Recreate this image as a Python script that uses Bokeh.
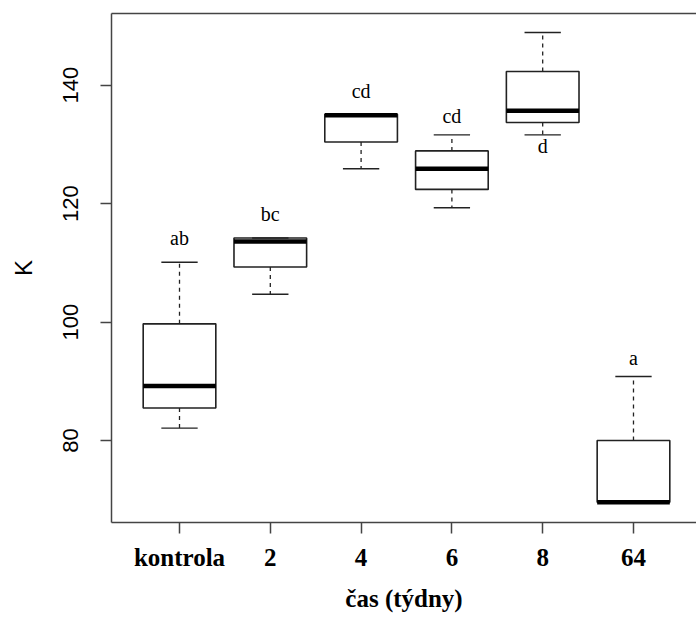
from bokeh.plotting import figure
from bokeh.models import FixedTicker, LinearAxis, Range1d
from bokeh.embed import file_html
from bokeh.resources import INLINE
from bokeh.core.properties import value
import numpy as np

# ---- data ----
groups = ["kontrola", "2", "4", "6", "8", "64"]
lower_whisker = [82.1, 104.7, 125.9, 119.3, 131.6, 69.6]
q1 = [85.5, 109.3, 130.4, 122.4, 133.7, 69.6]
median = [89.2, 113.6, 134.9, 125.9, 135.7, 69.6]
q3 = [99.7, 114.2, 135.1, 128.9, 142.3, 80.0]
upper_whisker = [110.1, 114.2, 135.1, 131.6, 148.9, 90.8]
letters = ["ab", "bc", "cd", "cd", "d", "a"]
letter_y = [114.2, 118.2, 139.0, 134.8, 129.7, 94.0]
y_ticks = [80, 100, 120, 140]

xs = np.arange(1, len(groups) + 1)
box_w = 0.8
cap_w = 0.4

LINE = "#222222"
AXIS = "#444444"

p = figure(width=696, height=617,
           x_range=Range1d(0.251, 6.694), y_range=Range1d(66.16, 152.1),
           output_backend="svg", toolbar_location=None,
           min_border_left=111, min_border_right=0,
           min_border_top=13, min_border_bottom=95)
p.outline_line_color = None
p.grid.visible = False
p.background_fill_color = "white"

# boxes
p.vbar(x=xs, width=box_w, bottom=q1, top=q3, fill_color="white",
       line_color=LINE, line_width=1.6)
# whiskers
p.segment(x0=xs, x1=xs, y0=q3, y1=upper_whisker, line_color=LINE,
          line_width=1.3, line_dash="4 4")
p.segment(x0=xs, x1=xs, y0=q1, y1=lower_whisker, line_color=LINE,
          line_width=1.3, line_dash="4 4")
# caps
p.segment(x0=xs - cap_w / 2, x1=xs + cap_w / 2, y0=upper_whisker,
          y1=upper_whisker, line_color=LINE, line_width=1.4)
p.segment(x0=xs - cap_w / 2, x1=xs + cap_w / 2, y0=lower_whisker,
          y1=lower_whisker, line_color=LINE, line_width=1.4)
# medians
p.segment(x0=xs - box_w / 2, x1=xs + box_w / 2, y0=median, y1=median,
          line_color="black", line_width=4.5)

# significance letters
p.text(x=xs, y=letter_y, text=letters, text_align="center",
       text_baseline="alphabetic", text_font=value("Liberation Serif"),
       text_font_size="20px", text_color="black")

# x axis
xa = p.xaxis[0]
xa.ticker = FixedTicker(ticks=list(xs))
xa.major_label_overrides = {int(x): g for x, g in zip(xs, groups)}
xa.minor_tick_line_color = None
xa.major_tick_in = 0
xa.major_tick_out = 11
xa.major_label_standoff = 10
xa.major_label_text_font = "Liberation Serif"
xa.major_label_text_font_style = "bold"
xa.major_label_text_font_size = "25px"
xa.major_label_text_color = "black"
xa.axis_line_color = AXIS
xa.axis_line_width = 1.5
xa.major_tick_line_color = AXIS
xa.major_tick_line_width = 1.5
xa.axis_label = "čas (týdny)"
xa.axis_label_text_font = "Liberation Serif"
xa.axis_label_text_font_style = "bold"
xa.axis_label_text_font_size = "25px"
xa.axis_label_text_color = "black"
xa.axis_label_standoff = 11

# y axis
ya = p.yaxis[0]
ya.ticker = FixedTicker(ticks=y_ticks)
ya.minor_tick_line_color = None
ya.major_tick_in = 0
ya.major_tick_out = 11
ya.major_label_standoff = 22
ya.major_label_orientation = "vertical"
ya.major_label_text_font = "Liberation Sans"
ya.major_label_text_font_size = "22px"
ya.major_label_text_color = "black"
ya.axis_line_color = AXIS
ya.axis_line_width = 1.5
ya.major_tick_line_color = AXIS
ya.major_tick_line_width = 1.5
ya.axis_label = "K"
ya.axis_label_text_font = "Liberation Sans"
ya.axis_label_text_font_style = "normal"
ya.axis_label_text_font_size = "24px"
ya.axis_label_text_color = "black"
ya.axis_label_standoff = 24

# top frame line
top = LinearAxis(ticker=FixedTicker(ticks=[]), axis_line_color=AXIS,
                 axis_line_width=1.5, major_tick_line_color=None,
                 minor_tick_line_color=None, major_label_text_font_size="0px")
p.add_layout(top, "above")

open("out.html", "w").write(file_html(p, INLINE))
